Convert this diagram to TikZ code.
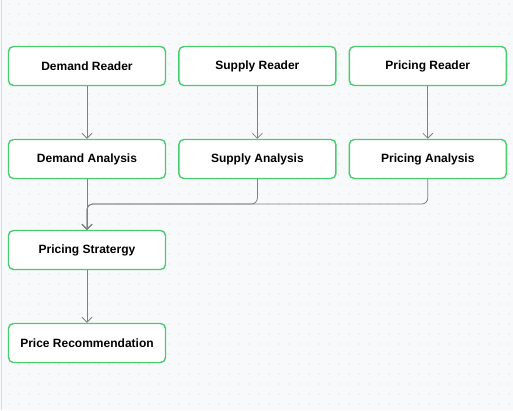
\documentclass[tikz,border=0pt]{standalone}
\usepackage{fontspec}
\setmainfont{Liberation Sans}
\usetikzlibrary{arrows.meta,positioning}

\definecolor{boxgreen}{RGB}{72,204,112}
\definecolor{wiregray}{RGB}{128,128,128}
\definecolor{canvas}{RGB}{248,249,250}
\definecolor{dotgray}{RGB}{214,218,222}

\begin{document}
\begin{tikzpicture}[x=1pt,y=1pt,
  node distance=93pt,
  box/.style={rectangle,rounded corners=5pt,draw=boxgreen,line width=1.4pt,fill=white,
    minimum width=157pt,minimum height=39pt,inner sep=0pt,
    font=\fontsize{12}{14}\selectfont\bfseries},
  wire/.style={draw=wiregray,line width=0.8pt,-{Straight Barb[length=5pt,width=10pt]}},
  merge/.style={wire,rounded corners=6pt}]

% background
\fill[canvas] (0,0) rectangle (513,-410);
\useasboundingbox (0,0) rectangle (513,-410);
\foreach \i in {0,...,50}
  \foreach \j in {0,...,40}
    \fill[dotgray] (9+10*\i,-4-10*\j) circle (0.6pt);
\draw[dotgray,line width=1pt] (1.5,0) -- (1.5,-410);

% Nodes
\node[box] at (87,-66) (dr) {Demand Reader};
\node[box,right=12pt of dr] (sr) {Supply Reader};
\node[box,right=12pt of sr] (pr) {Pricing Reader};
\node[box,below of = dr] (da) {Demand Analysis};
\node[box,below of = sr] (sa) {Supply Analysis};
\node[box,below of = pr] (pa) {Pricing Analysis};
\node[box,below of = da,yshift=2pt] (ps) {Pricing Stratergy};
\node[box,below of = ps] (rec) {Price Recommendation};

\coordinate (mg) at (ps.north |- 0,-204);

%arcs
\path (dr) edge[wire] (da);
\path (sr) edge[wire] (sa);
\path (pr) edge[wire] (pa);
\path (da) edge[wire] (ps);
\draw[merge] (sa.south) |- (mg) -- (ps.north);
\draw[merge] (pa.south) |- (mg) -- (ps.north);
\path (ps) edge[wire] (rec);

\end{tikzpicture}
\end{document}
